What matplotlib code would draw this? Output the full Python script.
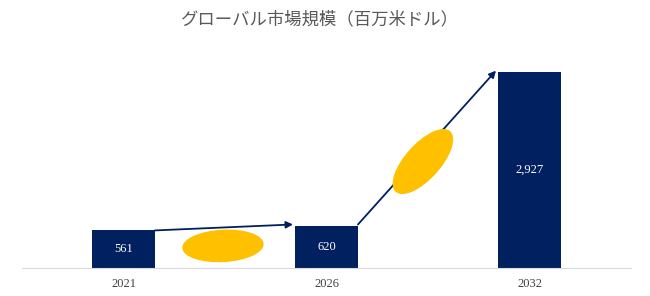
import matplotlib.pyplot as plt
import matplotlib.transforms as mtransforms
from matplotlib.patches import Ellipse

years = ['2021', '2026', '2032']
values = [561, 620, 2927]
labels = ['561', '620', '2,927']
title = 'グローバル市場規模（百万米ドル）'

navy = '#002060'
gold = '#FFC000'

fig = plt.figure(figsize=(6.5, 2.96), dpi=100)
ax = fig.add_axes([22 / 650, 28 / 296, 609 / 650, 218 / 296])

x = list(range(len(years)))
bw = 0.31
ax.bar(x, values, width=bw, color=navy, zorder=2)
ax.set_xlim(-0.5, 2.5)
ax.set_ylim(0, 3255)

for xi, v, lab in zip(x, values, labels):
    ax.text(xi, v / 2, lab, ha='center', va='center', color='white',
            fontsize=9, family='Liberation Serif', zorder=3)

ax.set_xticks(x)
ax.set_xticklabels(years, family='Liberation Serif', fontsize=9, color='#404040')
ax.tick_params(axis='x', length=0, pad=7)
ax.set_yticks([])
for s in ['top', 'right', 'left']:
    ax.spines[s].set_visible(False)
ax.spines['bottom'].set_color('#d9d9d9')

# arrows between bars
arrows = [((0 + bw / 2, values[0]), (1 - bw / 2 - 0.01, values[1] + 30)),
          ((1 + bw / 2, values[1] + 30), (2 - bw / 2 - 0.01, values[2] + 20))]
for start, end in arrows:
    ax.annotate('', xy=end, xytext=start,
                arrowprops=dict(arrowstyle='-|>', color=navy, lw=1.3,
                                mutation_scale=10, shrinkA=0, shrinkB=0),
                zorder=3)

# ellipses (size in inches, centred on data points)
ells = [((0.49, 330), 0.80, 0.31, 3),
        ((1.475, 1590), 0.80, 0.34, 48)]
for (cx, cy), w, h, ang in ells:
    tr = fig.dpi_scale_trans + mtransforms.ScaledTranslation(cx, cy, ax.transData)
    ax.add_patch(Ellipse((0, 0), w, h, angle=ang, color=gold, transform=tr,
                         zorder=4, clip_on=False))

fig.text(0.492, 1 - 19 / 296, title, ha='center', va='center', fontsize=12.5,
         color='#595959', family=['Noto Sans CJK JP', 'DejaVu Sans'])

fig.savefig('out.png', dpi=100)
